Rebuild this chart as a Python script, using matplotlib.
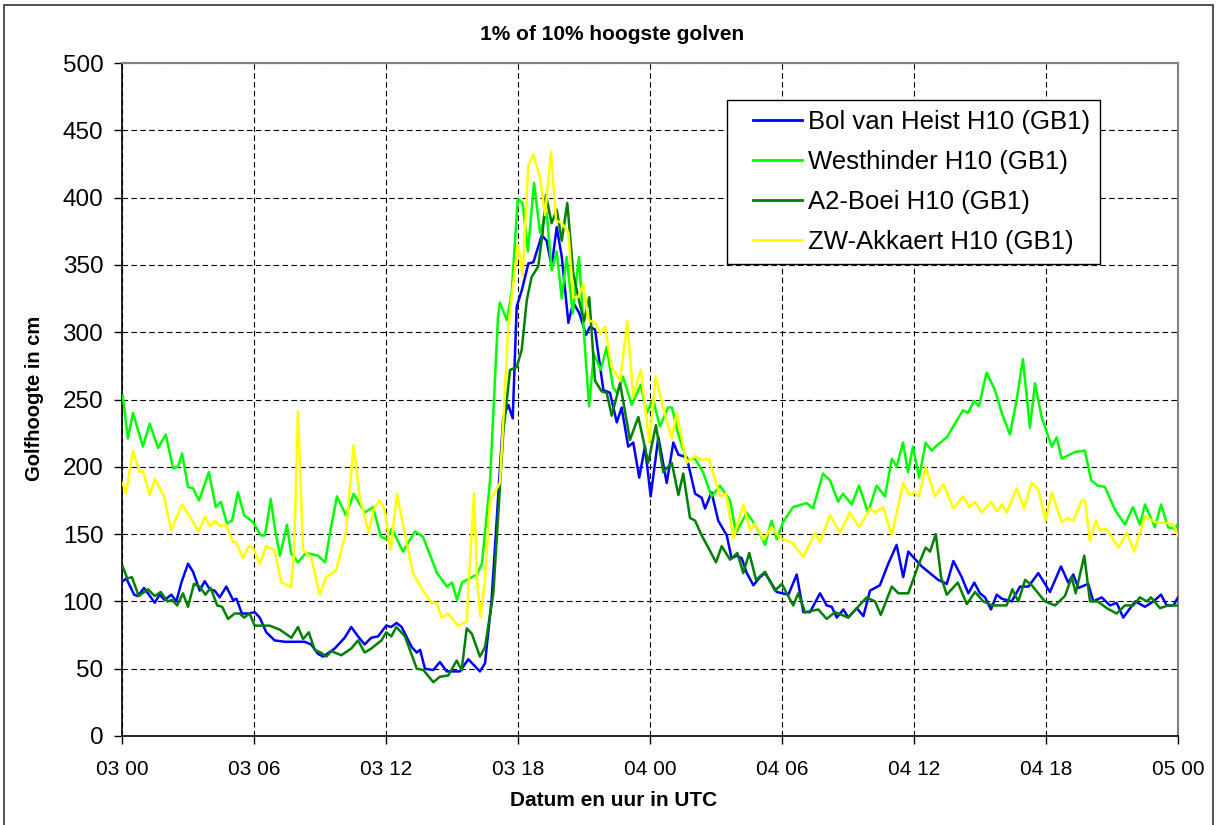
import matplotlib
matplotlib.use("Agg")
import matplotlib.pyplot as plt
from matplotlib.patches import Rectangle

plt.rcParams["font.family"] = ["Liberation Sans", "DejaVu Sans"]

# hours since 03 00 UTC, wave height in cm
HEIST_T = [0.03, 0.2, 0.55, 0.73, 1.0, 1.49, 1.71, 1.94, 2.24, 2.47, 2.7, 3.0, 3.23, 3.53, 3.76, 3.99,
           4.21, 4.44, 4.74, 5.05, 5.2, 5.45, 5.76, 6.03, 6.26, 6.56, 6.94, 7.4, 8.3, 8.6, 8.91, 9.14,
           9.67, 10.12, 10.42, 10.73, 11.03, 11.33, 11.64, 12.01, 12.24, 12.48, 12.71, 13.17, 13.4,
           13.55, 13.77, 14.15, 14.45, 14.76, 15.36, 15.74, 16.27, 16.5, 16.8, 17.33, 17.56, 17.76,
           17.94, 18.17, 18.47, 18.7, 19.08, 19.3, 19.53, 19.76, 19.99, 20.29, 20.51, 20.79, 21.09,
           21.27, 21.5, 21.88, 22.18, 22.49, 22.71, 23.01, 23.24, 23.51, 23.77, 24.03, 24.38, 24.76,
           25.06, 25.29, 25.67, 26.05, 26.35, 26.5, 26.8, 27.1, 27.49, 27.71, 27.94, 28.17, 28.4,
           28.7, 29.0, 29.23, 29.76, 30.29, 30.67, 30.97, 31.27, 31.73, 32.03, 32.26, 32.49, 32.79,
           33.01, 33.4, 33.7, 34.0, 34.45, 34.83, 35.21, 35.51, 35.74, 36.35, 37.1, 37.49, 37.79,
           38.17, 38.47, 38.74, 39.0, 39.23, 39.5, 39.76, 39.99, 40.44, 40.82, 41.2, 41.65, 42.18,
           42.68, 43.01, 43.24, 43.47, 43.92, 44.15, 44.53, 44.91, 45.21, 45.51, 46.05, 46.5, 46.88,
           47.23, 47.49, 47.79, 48.0]
HEIST_V = [115, 117, 105, 104, 110, 99, 105, 101, 105, 100, 114, 128, 122, 108, 115, 109,
           108, 103, 111, 101, 102, 91, 91, 92, 88, 77, 71, 70, 70, 68, 61, 59,
           65, 73, 81, 74, 68, 73, 74, 82, 81, 84, 81, 66, 62,
           64, 50, 49, 55, 48, 48, 57, 48, 54, 101, 237, 246, 236,
           319, 331, 351, 352, 372, 368, 349, 378, 356, 307, 322, 314, 298,
           304, 302, 257, 255, 233, 244, 215, 218, 192, 215, 178, 222, 188,
           218, 209, 207, 180, 177, 169, 181, 160, 149, 132, 134, 132, 121,
           112, 118, 121, 107, 105, 120, 92, 92, 106, 97, 96, 88, 94,
           88, 95, 89, 108, 112, 128, 142, 118, 137, 126, 116, 113, 130,
           118, 106, 114, 106, 103, 94, 105, 102, 100, 111, 111, 121, 107,
           126, 114, 120, 110, 113, 100, 103, 97, 99, 88, 100, 96, 100,
           105, 97, 97, 103]

WEST_T = [0.03, 0.27, 0.5, 0.95, 1.26, 1.64, 1.99, 2.32, 2.55, 2.73, 3.0, 3.23, 3.5, 3.95, 4.26,
          4.49, 4.77, 5.0, 5.27, 5.55, 5.95, 6.32, 6.5, 6.76, 6.94, 7.18, 7.5, 7.68, 8.0, 8.36,
          8.91, 9.23, 9.5, 9.77, 10.18, 10.53, 11.03, 11.41, 11.77, 12.05, 12.27, 12.77, 13.32,
          13.68, 14.32, 14.77, 15.0, 15.23, 15.45, 16.14, 16.36, 16.59, 16.73, 17.09, 17.18,
          17.49, 17.71, 17.99, 18.21, 18.45, 18.73, 19.0, 19.3, 19.53, 19.76, 19.99, 20.21,
          20.49, 20.77, 21.0, 21.23, 21.45, 21.76, 22.03, 22.32, 22.5, 22.77, 23.17, 23.58,
          23.85, 24.14, 24.45, 24.82, 25.0, 25.27, 25.67, 26.05, 26.41, 26.8, 27.18, 27.64,
          27.91, 28.4, 28.85, 29.23, 29.53, 29.76, 30.05, 30.5, 31.12, 31.41, 31.86, 32.18,
          32.55, 32.77, 33.17, 33.5, 33.91, 34.3, 34.68, 34.99, 35.21, 35.5, 35.73, 35.95,
          36.23, 36.53, 36.8, 37.05, 37.5, 37.86, 38.23, 38.45, 38.73, 38.95, 39.3, 39.68,
          39.99, 40.36, 40.67, 40.95, 41.27, 41.5, 41.8, 42.26, 42.49, 42.71, 43.32, 43.77,
          44.05, 44.36, 44.68, 45.14, 45.59, 45.95, 46.27, 46.5, 46.95, 47.23, 47.55, 47.86, 48.0]
WEST_V = [253, 221, 240, 215, 232, 214, 224, 199, 200, 210, 185, 184, 175, 196, 170,
          174, 158, 160, 181, 164, 159, 149, 149, 176, 155, 134, 157, 136, 129, 136,
          134, 129, 155, 178, 164, 180, 166, 170, 148, 146, 154, 137, 152,
          148, 121, 111, 114, 101, 114, 120, 128, 166, 190, 311, 322,
          309, 329, 399, 396, 360, 411, 374, 389, 346, 360, 325, 356,
          314, 356, 299, 245, 284, 272, 289, 259, 255, 267, 246, 261,
          240, 250, 230, 244, 244, 225, 205, 206, 196, 178, 186, 175,
          151, 166, 155, 142, 160, 146, 159, 170, 173, 169, 195, 190,
          174, 180, 172, 186, 166, 186, 178, 206, 200, 218, 196, 215,
          192, 218, 212, 216, 222, 232, 242, 240, 249, 245, 270, 257,
          240, 224, 250, 280, 229, 262, 237, 215, 222, 206, 211, 212,
          190, 186, 185, 168, 157, 170, 157, 172, 155, 172, 155, 154, 158]

A2_T = [0.03, 0.24, 0.45, 0.76, 1.18, 1.49, 1.76, 2.06, 2.27, 2.51, 2.77, 3.0, 3.27, 3.53, 3.79,
        4.03, 4.33, 4.55, 4.82, 5.12, 5.35, 5.55, 5.8, 6.03, 6.33, 6.71, 7.17, 7.7, 8.0, 8.23,
        8.49, 8.76, 9.03, 9.29, 9.51, 9.97, 10.42, 10.73, 11.03, 11.33, 11.79, 12.01, 12.24,
        12.47, 12.86, 13.4, 13.7, 14.15, 14.45, 14.83, 15.21, 15.44, 15.67, 15.9, 16.27, 16.5,
        16.88, 17.33, 17.64, 17.94, 18.17, 18.4, 18.62, 18.92, 19.12, 19.27, 19.53, 19.76,
        19.99, 20.24, 20.51, 20.74, 21.0, 21.24, 21.5, 21.8, 22.03, 22.26, 22.64, 23.09,
        23.47, 23.92, 24.27, 24.6, 24.99, 25.29, 25.51, 25.82, 26.05, 26.35, 26.65, 27.0,
        27.26, 27.64, 27.97, 28.24, 28.51, 28.82, 29.23, 29.68, 29.99, 30.51, 30.74, 31.05,
        31.65, 32.03, 32.41, 33.01, 33.85, 34.23, 34.49, 34.99, 35.29, 35.74, 36.2, 36.53,
        36.73, 36.99, 37.23, 37.49, 37.99, 38.4, 38.77, 39.15, 39.56, 40.21, 40.47, 40.74,
        41.05, 41.35, 41.95, 42.41, 42.86, 43.17, 43.35, 43.74, 44.0, 44.35, 44.76, 45.21,
        45.59, 45.97, 46.27, 46.58, 46.77, 47.18, 47.56, 48.0]
A2_V = [126, 117, 118, 104, 109, 104, 107, 100, 101, 97, 106, 96, 113, 111, 105,
        110, 97, 96, 87, 91, 91, 88, 91, 82, 82, 82, 79, 73, 81, 72,
        77, 64, 62, 59, 63, 60, 65, 71, 62, 65, 71, 77, 74,
        81, 74, 50, 49, 40, 44, 45, 56, 49, 80, 76, 59, 66,
        106, 225, 272, 274, 287, 324, 341, 349, 374, 402, 381, 391,
        368, 396, 344, 326, 308, 326, 264, 256, 255, 238, 262, 220,
        237, 203, 231, 196, 203, 179, 195, 162, 160, 149, 140, 129,
        141, 131, 136, 121, 136, 116, 122, 108, 113, 97, 106, 92,
        94, 87, 92, 88, 103, 100, 90, 111, 106, 106, 127, 140,
        137, 150, 118, 105, 114, 98, 107, 100, 97, 97, 109, 100,
        116, 112, 100, 97, 104, 118, 106, 134, 100, 100, 95, 91,
        97, 97, 103, 100, 103, 95, 97, 97]

ZW_T = [0.03, 0.18, 0.5, 0.8, 0.95, 1.26, 1.5, 1.91, 2.23, 2.73, 3.12, 3.49, 3.77, 3.99, 4.23,
        4.44, 4.73, 5.05, 5.18, 5.5, 5.76, 5.95, 6.26, 6.55, 6.94, 7.23, 7.68, 7.82, 8.0, 8.23,
        8.59, 8.99, 9.27, 9.73, 10.18, 10.53, 10.8, 11.21, 11.45, 11.71, 11.94, 12.21, 12.5,
        12.76, 13.23, 13.68, 14.08, 14.3, 14.53, 14.82, 15.27, 15.67, 15.77, 16.0, 16.14, 16.3,
        16.5, 16.73, 17.18, 17.56, 17.99, 18.21, 18.47, 18.7, 19.0, 19.23, 19.5, 19.73, 19.99,
        20.29, 20.51, 20.74, 20.97, 21.2, 21.5, 21.73, 21.95, 22.26, 22.64, 22.97, 23.24,
        23.58, 23.97, 24.26, 24.53, 24.99, 25.21, 25.67, 26.05, 26.41, 26.68, 27.18, 27.45,
        27.79, 28.24, 28.55, 28.77, 29.15, 29.53, 29.91, 30.44, 30.97, 31.5, 31.73, 32.18,
        32.64, 33.09, 33.51, 34.0, 34.23, 34.6, 34.99, 35.51, 35.79, 36.01, 36.23, 36.53,
        36.95, 37.33, 37.79, 38.24, 38.51, 38.77, 39.08, 39.5, 39.76, 39.99, 40.21, 40.67,
        41.0, 41.35, 41.65, 41.99, 42.26, 42.71, 43.01, 43.24, 43.62, 43.77, 44.0, 44.26,
        44.45, 44.76, 45.29, 45.67, 46.01, 46.5, 46.95, 47.56, 47.79, 47.99]
ZW_V = [188, 180, 212, 196, 197, 179, 191, 178, 153, 172, 162, 152, 163, 156, 160,
        156, 157, 144, 144, 132, 141, 140, 128, 141, 138, 114, 111, 136, 241, 138,
        133, 105, 118, 123, 151, 216, 178, 151, 169, 175, 168, 138, 180,
        158, 121, 108, 99, 99, 88, 91, 82, 85, 116, 180, 116, 88,
        116, 175, 188, 304, 365, 342, 424, 432, 415, 387, 434, 383, 381,
        374, 326, 326, 336, 309, 307, 299, 304, 274, 264, 308, 252,
        272, 218, 267, 248, 221, 240, 203, 208, 205, 206, 178, 180,
        147, 172, 153, 158, 146, 155, 147, 144, 133, 151, 144, 164,
        151, 166, 155, 169, 166, 170, 149, 188, 179, 181, 178, 200,
        178, 187, 169, 178, 170, 174, 166, 174, 167, 172, 166, 184,
        169, 188, 183, 160, 181, 159, 162, 160, 175, 175, 145, 160,
        153, 154, 140, 151, 137, 163, 159, 158, 157, 149]

SERIES = [
    ("Bol van Heist H10 (GB1)", HEIST_T, HEIST_V, "#0000FF"),
    ("Westhinder H10 (GB1)", WEST_T, WEST_V, "#00FF00"),
    ("A2-Boei H10 (GB1)", A2_T, A2_V, "#008000"),
    ("ZW-Akkaert H10 (GB1)", ZW_T, ZW_V, "#FFFF00"),
]
X_TICKS = [0, 6, 12, 18, 24, 30, 36, 42, 48]
X_LABELS = ["03 00", "03 06", "03 12", "03 18", "04 00", "04 06", "04 12", "04 18", "05 00"]
Y_TICKS = list(range(0, 501, 50))

W, H = 1216, 825
fig = plt.figure(figsize=(W / 100, H / 100), dpi=100)
ax = fig.add_axes([122 / W, 1 - 736 / H, (1178 - 122) / W, (736 - 63) / H])

# chart area frame
fig.patches.append(Rectangle((4 / W, -0.01), (1213 - 4) / W, 1 - 5 / H + 0.01,
                             transform=fig.transFigure, fill=False,
                             edgecolor="#333333", linewidth=1.2, zorder=0))

for i, (name, t, v, c) in enumerate(SERIES):
    ax.plot(t, v, color=c, lw=1.8, label=name, zorder=3 + i)

ax.set_xlim(0, 48)
ax.set_ylim(0, 500)
ax.set_xticks(X_TICKS)
ax.set_xticklabels(X_LABELS, fontsize=15)
ax.set_yticks(Y_TICKS)
ax.tick_params(axis="y", labelsize=17.5, length=6, width=1, direction="out", pad=7.5)
ax.tick_params(axis="x", length=6, width=1, direction="out", pad=11)
ax.grid(True, color="black", linestyle=(0, (5, 3)), linewidth=0.8)
ax.set_axisbelow(True)
for side in ("left", "bottom"):
    ax.spines[side].set_color("black")
    ax.spines[side].set_linewidth(1.2)
for side in ("top", "right"):
    ax.spines[side].set_color("#808080")
    ax.spines[side].set_linewidth(1.5)

fig.text(612 / W, 1 - 35 / H, "1% of 10% hoogste golven", ha="center", va="center",
         fontsize=15, fontweight="bold")
fig.text(614 / W, 1 - 800 / H, "Datum en uur in UTC", ha="center", va="center",
         fontsize=15, fontweight="bold")
fig.text(35 / W, 1 - 398 / H, "Golfhoogte in cm", ha="center", va="center",
         rotation=90, fontsize=14.5, fontweight="bold")

# legend box drawn separately so its padding can match the original
ax.add_patch(Rectangle((727 / W, 1 - 264 / H), (1100 - 727) / W, (264 - 100) / H,
                       transform=fig.transFigure, facecolor="white", clip_on=False,
                       edgecolor="black", linewidth=1.0, zorder=8))
leg = ax.legend(loc="upper left", bbox_to_anchor=(753 / W, 1 - 110 / H),
                bbox_transform=fig.transFigure, fontsize=18.5, frameon=False,
                borderaxespad=0, handlelength=1.9, handletextpad=0.25,
                labelspacing=0.62, borderpad=0)
leg.set_zorder(10)
for line in leg.get_lines():
    line.set_linewidth(2)

fig.savefig("out.png", dpi=100)
